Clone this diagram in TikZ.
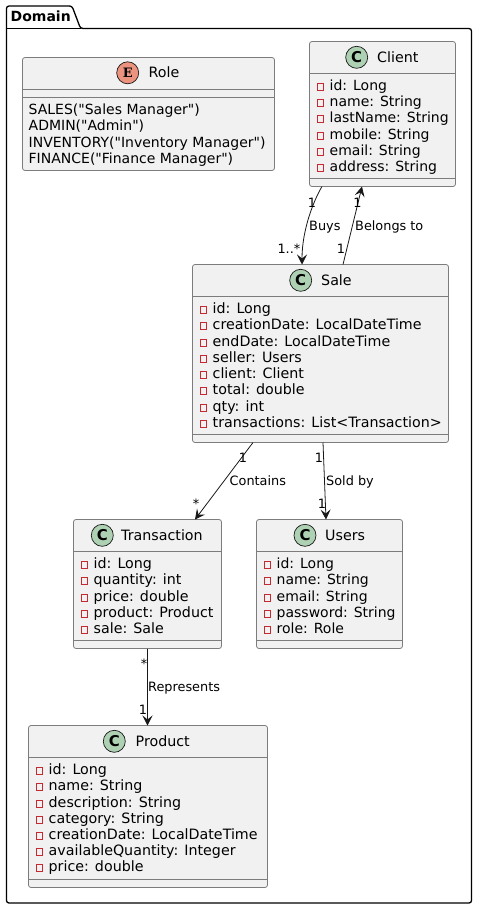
\documentclass[tikz,border=0pt]{standalone}
\usepackage{fontspec}
\setmainfont{DejaVu Sans}
\newfontfamily\serifbold{DejaVu Serif}
\newfontfamily\rawfont{DejaVu Sans}
\usetikzlibrary{arrows.meta,calc}
\definecolor{boxfill}{HTML}{F1F1F1}
\definecolor{boxline}{HTML}{7C7C7C}
\definecolor{edgeline}{HTML}{181818}
\definecolor{privred}{HTML}{C82930}
\definecolor{classcirc}{HTML}{ADD1B2}
\definecolor{enumcirc}{HTML}{EB937F}
\tikzset{
  classbox/.style={draw=boxline,fill=boxfill,line width=0.8pt,rounded corners=2.5bp,inner sep=0pt,outer sep=0pt},
  sepline/.style={draw=boxline,line width=0.8pt},
  badge/.style={circle,draw=edgeline,line width=0.7pt,minimum size=22bp,inner sep=0pt,font=\fontsize{15}{15}\selectfont\bfseries},
  titletext/.style={anchor=base west,inner sep=0pt,font=\fontsize{14.3}{16}\selectfont},
  membertext/.style={anchor=base west,inner sep=0pt,font=\fontsize{14.3}{16}\selectfont},
  narrowtext/.style={anchor=base west,inner sep=0pt,font=\fontsize{14.05}{16}\selectfont\rawfont},
  privmark/.style={draw=privred,line width=0.8pt,minimum width=6.6bp,minimum height=7bp,inner sep=0pt,outer sep=0pt},
  edgelabel/.style={inner sep=0pt,font=\fontsize{12.9}{15}\selectfont},
  assoc/.style={draw=edgeline,line width=0.8pt,-{Stealth[length=10bp,width=10bp,inset=4bp]}}
}
% name, x1, y1, x2, y2, header y, footer y
\newcommand{\umlbox}[7]{%
  \node[classbox,anchor=north west,minimum width=#4bp-#2bp,minimum height=#5bp-#3bp] (#1) at (#2,#3) {};
  \draw[sepline] (#2,#6) -- (#4,#6);
  \draw[sepline] (#2,#7) -- (#4,#7);
}
% name, circle x, circle y, title x, baseline y, title
\newcommand{\umltitle}[6]{%
  \node[badge,fill=classcirc] (#1c) at (#2,#3) {C};
  \node[titletext] (#1t) at (#4,#5) {#6};
}
% name, box x, baseline y, text
\newcommand{\umlmember}[4]{%
  \node[privmark] (#1m) at ({#2+11},{floor(#3-4)+0.5}) {};
  \node[membertext] (#1) at (#2+20,#3) {#4};
}
\begin{document}
\begin{tikzpicture}[x=1bp,y=-1bp]
\useasboundingbox (0,0) rectangle (477,909);
\fill[white] (0,0) rectangle (477,909);

% package
\draw[draw=black,line width=1.3pt,rounded corners=2.5bp,fill=white]
  (6.5,28.5) -- (6.5,6) -- (72,6) -- (80.5,28.5) -- (471.5,28.5) -- (471.5,903) -- (6.5,903) -- cycle;
\draw[draw=black,line width=1.3pt] (6.5,28.5) -- (80.5,28.5);
\node[anchor=base west,inner sep=0pt,font=\fontsize{14.05}{16}\selectfont\bfseries] (domain) at (10.5,21.5) {Domain};

% Role
\umlbox{role}{22.5}{57.5}{274.5}{170.5}{89.5}{97.5}
\node[badge,fill=enumcirc,font=\fontsize{13}{13}\selectfont\bfseries\serifbold] (rolec) at (127.7,72.8) {E};
\node[titletext] (rolet) at (148.5,77.5) {Role};
\node[narrowtext] (role1) at (28.5,114) {SALES("Sales Manager")};
\node[narrowtext] (role2) at (28.5,130.5) {ADMIN("Admin")};
\node[narrowtext] (role3) at (28.5,147) {INVENTORY("Inventory Manager")};
\node[narrowtext] (role4) at (28.5,163) {FINANCE("Finance Manager")};

% Client
\umlbox{client}{309.5}{41.5}{455.5}{186.5}{73.5}{178.5}
\umltitle{client}{356.7}{57.3}{377}{62}{Client}
\begin{scope}[membertext/.style={narrowtext}]
\umlmember{cl1}{309.5}{90}{id: Long}
\umlmember{cl2}{309.5}{106}{name: String}
\umlmember{cl3}{309.5}{122.5}{lastName: String}
\umlmember{cl4}{309.5}{139}{mobile: String}
\umlmember{cl5}{309.5}{155}{email: String}
\umlmember{cl6}{309.5}{171}{address: String}
\end{scope}

% Sale
\umlbox{sale}{192.5}{264.5}{448.5}{442.5}{296.5}{434.5}
\umltitle{sale}{300.7}{280.3}{321}{285}{Sale}
\umlmember{sa1}{192.5}{313.3}{id: Long}
\umlmember{sa2}{192.5}{329.5}{creationDate: LocalDateTime}
\umlmember{sa3}{192.5}{346}{endDate: LocalDateTime}
\umlmember{sa4}{192.5}{362}{seller: Users}
\umlmember{sa5}{192.5}{378.3}{client: Client}
\umlmember{sa6}{192.5}{394.5}{total: double}
\umlmember{sa7}{192.5}{411}{qty: int}
\umlmember{sa8}{192.5}{427}{transactions: List<Transaction>}

% Transaction
\umlbox{trans}{73.5}{519.5}{221.5}{648.5}{551.5}{640.5}
\umltitle{trans}{102.3}{535.3}{121}{540}{Transaction}
\umlmember{tr1}{73.5}{568.3}{id: Long}
\umlmember{tr2}{73.5}{584.5}{quantity: int}
\umlmember{tr3}{73.5}{601}{price: double}
\umlmember{tr4}{73.5}{617}{product: Product}
\umlmember{tr5}{73.5}{633.3}{sale: Sale}

% Users
\umlbox{users}{256.5}{519.5}{402.5}{648.5}{551.5}{640.5}
\umltitle{users}{305}{535.3}{325}{540}{Users}
\begin{scope}[membertext/.style={narrowtext}]
\umlmember{us1}{256.5}{568.3}{id: Long}
\umlmember{us2}{256.5}{584.5}{name: String}
\umlmember{us3}{256.5}{601}{email: String}
\umlmember{us4}{256.5}{617}{password: String}
\umlmember{us5}{256.5}{633.3}{role: Role}
\end{scope}

% Product
\umlbox{product}{28.5}{725.5}{267.5}{887.5}{757.5}{879.5}
\umltitle{product}{114.3}{741.3}{135.5}{746}{Product}
\umlmember{pr1}{28.5}{774.3}{id: Long}
\umlmember{pr2}{28.5}{790.5}{name: String}
\umlmember{pr3}{28.5}{807}{description: String}
\umlmember{pr4}{28.5}{823}{category: String}
\umlmember{pr5}{28.5}{839.3}{creationDate: LocalDateTime}
\umlmember{pr6}{28.5}{855.5}{availableQuantity: Integer}
\umlmember{pr7}{28.5}{871.5}{price: double}

% connectors (offsets from the box corners)
\draw[assoc] ($(client.south west)+(12.5,0)$) .. controls (315,198) and (302,228) .. ($(sale.north west)+(109.5,0)$);
\draw[assoc] ($(sale.north west)+(150.5,0)$) -- ($(client.south west)+(52.5,0)$);
\draw[assoc] ($(sale.south west)+(60.5,0)$) -- ($(trans.north west)+(121.5,0)$);
\draw[assoc] ($(sale.south west)+(130.5,0)$) -- ($(users.north west)+(69.5,0)$);
\draw[assoc] ($(trans.south west)+(74,0)$) -- ($(product.north west)+(119,0)$);

% labels
\node[edgelabel,anchor=base] (l1) at (312,207.5) {1};
\node[edgelabel,anchor=base west] (l2) at (309,230.5) {Buys};
\node[edgelabel,anchor=base east] (l3) at (300.5,253.5) {1..*};
\node[edgelabel,anchor=base] (l4) at (357.5,207.5) {1};
\node[edgelabel,anchor=base west] (l5) at (355,230.5) {Belongs to};
\node[edgelabel,anchor=base] (l6) at (341,253.5) {1};
\node[edgelabel,anchor=base] (l7) at (243,462.5) {1};
\node[edgelabel,anchor=base west] (l8) at (229.5,485.5) {Contains};
\node[edgelabel,anchor=base] (l9) at (196,508.5) {*};
\node[edgelabel,anchor=base] (l10) at (319,462.5) {1};
\node[edgelabel,anchor=base west] (l11) at (326,485.5) {Sold by};
\node[edgelabel,anchor=base] (l12) at (322,508.5) {1};
\node[edgelabel,anchor=base] (l13) at (144,668.5) {*};
\node[edgelabel,anchor=base west] (l14) at (148,691.5) {Represents};
\node[edgelabel,anchor=base] (l15) at (143,714.5) {1};
\end{tikzpicture}
\end{document}
